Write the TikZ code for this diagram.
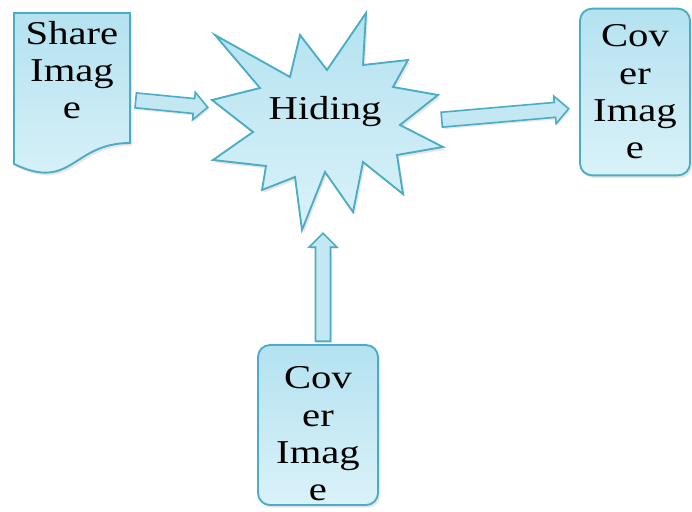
\documentclass[tikz,border=0pt]{standalone}
\usepackage{fontspec}
\setmainfont{Liberation Serif}
\usetikzlibrary{calc,shapes.arrows,shadows}

\definecolor{edgeblue}{RGB}{75,172,198}
\definecolor{filltop}{RGB}{180,226,240}
\definecolor{fillbot}{RGB}{218,242,249}

\newcommand{\wtext}[1]{\scalebox{1.22}[1]{#1}}
\newcommand{\blockarrow}[2]{%
  \path let \p1=(#1), \p2=(#2),
    \n1={atan2(\y2-\y1,\x2-\x1)}, \n2={veclen(\x2-\x1,\y2-\y1)} in
    node[arrowbox, rotate=\n1, minimum height=\n2] at ($(#1)!0.5!(#2)$) {};}

\begin{document}
\begin{tikzpicture}[%
        x=0.75pt,
        y=-0.75pt,
        shapebox/.style={draw=edgeblue, line width=1.4pt, top color=filltop, bottom color=fillbot,
          drop shadow={opacity=0.2, shadow xshift=1.5pt, shadow yshift=-2pt}},
        txt/.style={font=\fontsize{25}{28}\selectfont, align=center, inner sep=0pt},
        arrowbox/.style={single arrow, draw=edgeblue, line width=1.2pt, fill=filltop!80!white,
          inner sep=0pt, text height=5pt, text depth=5pt, single arrow head extend=4.8pt,
          drop shadow={opacity=0.2, shadow xshift=1pt, shadow yshift=-1.5pt}}
        ]

        \useasboundingbox (0,0) rectangle (692,511);

        % document shape
        \path[shapebox] (14,13) -- (130,13) -- (130,143)
          .. controls (72,143) and (72,192) .. (14,164) -- cycle;
        \node[txt] (share) at (72,70) {\wtext{Share}\\\wtext{Imag}\\\wtext{e}};

        % explosion
        \path[shapebox] (215,35) -- (290,77) -- (300,35) -- (327,70) -- (366,13) -- (363,65)
          -- (408,60) -- (393,87) -- (438,95) -- (400,125) -- (443,147) -- (397,155)
          -- (403,194) -- (363,162) -- (353,212) -- (325,172) -- (302,230) -- (295,177)
          -- (262,190) -- (266,166) -- (213,160) -- (253,132) -- (212,100) -- (260,88) -- cycle;
        \node[txt] (hiding) at (325,112) {\wtext{Hiding}};

        \node[shapebox, txt, rounded corners=9pt, minimum width=82.5pt, minimum height=125pt]
          (coverout) at (635,92) {\wtext{Cov}\\\wtext{er}\\\wtext{Imag}\\\wtext{e}};
        \node[shapebox, txt, rounded corners=9pt, minimum width=90pt, minimum height=120pt]
          (coverin) at (318,425) {\rule{0pt}{30pt}\wtext{Cov}\\\wtext{er}\\\wtext{Imag}\\\wtext{e}};

        \coordinate (share out) at (132,100);
        \coordinate (hiding left) at (204,107);
        \coordinate (hiding right) at (438,120);
        \coordinate (coverout in) at (565,109);
        \coordinate (coverin out) at (323,345);
        \coordinate (hiding below) at (323,237);

        \blockarrow{share out}{hiding left}
        \blockarrow{hiding right}{coverout in}
        \blockarrow{coverin out}{hiding below}

        \end{tikzpicture}
\end{document}
